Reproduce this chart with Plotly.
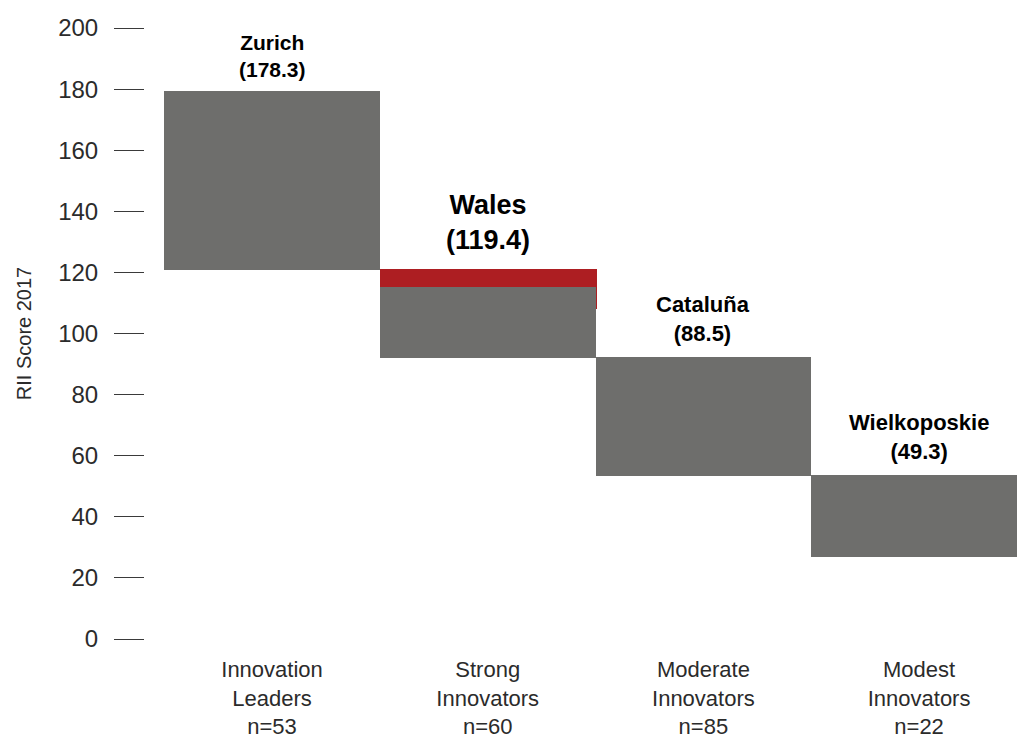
import plotly.graph_objects as go

categories = ["Innovation<br>Leaders", "Strong<br>Innovators", "Moderate<br>Innovators", "Modest<br>Innovators"]
group_n = [53, 60, 85, 22]
bar_low = [120.9, 92.1, 53.5, 27.0]
bar_high = [179.3, 115.2, 92.2, 53.6]

highlight_cat = 1
highlight_low = 107.9
highlight_high = 121.0

regions = ["Zurich", "Wales", "Cataluña", "Wielkoposkie"]
region_scores = [178.3, 119.4, 88.5, 49.3]

y_ticks = list(range(0, 201, 20))

GRAY = "#6e6e6c"
RED = "#ad1e22"
TXT = "#2b2b2b"
FONT = "Liberation Sans, Arial, sans-serif"

x_idx = list(range(len(categories)))
tick_text = [f"{c}<br>n={n}" for c, n in zip(categories, group_n)]

fig = go.Figure()
fig.add_trace(go.Bar(
    x=[highlight_cat], base=[highlight_low], y=[highlight_high - highlight_low],
    width=1.005, offset=-0.5, marker=dict(color=RED, line=dict(width=0)),
    hoverinfo="skip", showlegend=False,
))
fig.add_trace(go.Bar(
    x=x_idx, base=bar_low, y=[h - l for h, l in zip(bar_high, bar_low)],
    width=1.0, marker=dict(color=GRAY, line=dict(width=0)),
    hoverinfo="skip", showlegend=False,
))

for i, (name, score) in enumerate(zip(regions, region_scores)):
    top = max(bar_high[i], highlight_high if i == highlight_cat else bar_high[i])
    big = i == highlight_cat
    fig.add_annotation(
        x=i, y=top, xref="x", yref="y",
        text=f"<b>{name}<br>({score})</b>",
        showarrow=False, yanchor="bottom", xanchor="center",
        yshift=12 if big else (8 if i == 0 else 9),
        font=dict(family=FONT, size=27 if big else (21 if i == 0 else 22), color="#000000"),
    )

fig.update_layout(
    width=1017, height=742,
    margin=dict(l=145, r=0, t=28, b=103, pad=0, autoexpand=False),
    plot_bgcolor="white", paper_bgcolor="white",
    barmode="overlay", bargap=0,
    font=dict(family=FONT, color=TXT, size=22),
    xaxis=dict(
        range=[-0.589, 3.454], tickmode="array", tickvals=x_idx, ticktext=tick_text,
        showgrid=False, zeroline=False, showline=False, ticks="",
        tickfont=dict(size=22, color=TXT), ticklabelstandoff=15, automargin=False,
    ),
    yaxis=dict(
        range=[0, 200], tickmode="array", tickvals=y_ticks,
        showgrid=False, zeroline=False, showline=False,
        ticks="outside", ticklen=30, tickwidth=1.3, tickcolor="#3a3a3a",
        tickfont=dict(size=24, color=TXT), ticklabelstandoff=11, automargin=False,
        title=dict(text="RII Score 2017", font=dict(size=20, color=TXT), standoff=21),
    ),
)

fig.write_html(
    "out.html",
    config={"displayModeBar": False},
    post_script="document.body.style.margin='0';document.body.style.overflow='hidden';",
)
